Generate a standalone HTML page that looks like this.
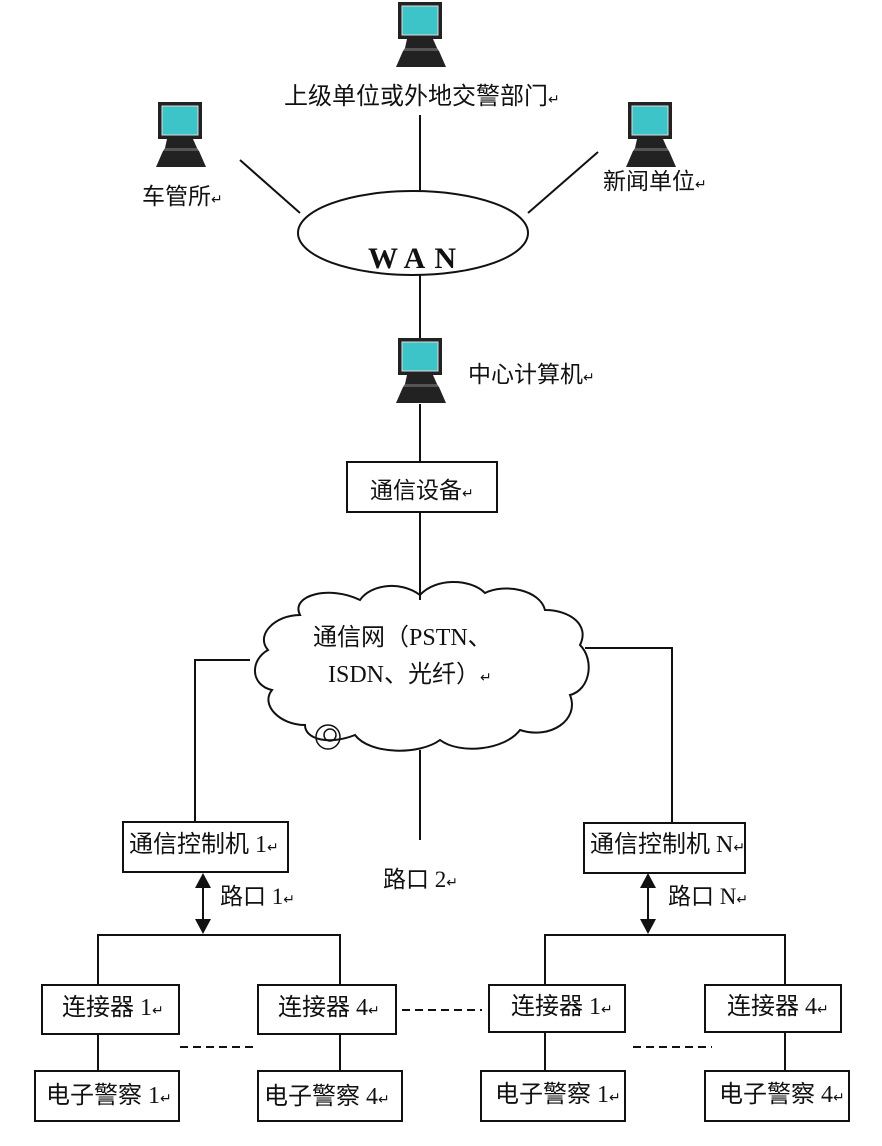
<!DOCTYPE html>
<html><head><meta charset="utf-8"><style>
html,body{margin:0;padding:0;background:#fff;}
svg{display:block}
text{font-family:"Liberation Serif","Noto Sans CJK SC",serif;fill:#111}
.c{font-family:"Noto Sans CJK SC","Liberation Sans",sans-serif}
.r{font-size:14px}
</style></head><body>
<svg width="882" height="1146" viewBox="0 0 882 1146" xmlns="http://www.w3.org/2000/svg">
<defs>
<g id="pc">
<rect x="3" y="0" width="44" height="37" fill="#222"/>
<rect x="7" y="4" width="36" height="29" fill="#3cc4c8" stroke="#ddd" stroke-width="1"/>
<path d="M12 37 L38 37 L42 46 L10 46 Z" fill="#222"/>
<path d="M8 49 L44 49 L51 65 L1 65 Z" fill="#222"/>
<path d="M10 46 L42 46 L44 49 L8 49 Z" fill="#555"/>
</g>
</defs>
<g stroke="#111" stroke-width="2" fill="none">
<line x1="420" y1="115" x2="420" y2="192"/>
<line x1="240" y1="160" x2="300" y2="213"/>
<line x1="598" y1="152" x2="528" y2="213"/>
<ellipse cx="413" cy="233" rx="115" ry="42"/>
<line x1="420" y1="275" x2="420" y2="338"/>
<line x1="420" y1="404" x2="420" y2="462"/>
<rect x="347" y="462" width="150" height="50"/>
<line x1="420" y1="512" x2="420" y2="600"/>
<path d="M300 615 C290 595 330 585 360 600 C370 585 400 580 420 595 C435 578 470 578 485 593 C505 583 540 590 545 610 C570 610 590 625 580 645 C595 660 590 690 570 695 C580 720 550 740 520 730 C505 750 460 755 440 740 C420 755 370 755 355 735 C330 745 305 740 305 725 C280 725 260 705 272 690 C250 685 250 660 268 650 C255 635 275 615 300 615 Z" stroke-width="2"/>
<circle cx="328" cy="737" r="12" stroke-width="1.5"/>
<circle cx="330" cy="735" r="6" stroke-width="1.5"/>
<polyline points="250,660 195,660 195,822"/>
<polyline points="585,648 672,648 672,822"/>
<line x1="420" y1="750" x2="420" y2="840"/>
<rect x="123" y="822" width="165" height="50"/>
<rect x="584" y="823" width="161" height="50"/>
<line x1="203" y1="885" x2="203" y2="922"/>
<line x1="648" y1="885" x2="648" y2="922"/>
<polyline points="98,985 98,935 340,935 340,985"/>
<polyline points="545,985 545,935 785,935 785,985"/>
<rect x="42" y="985" width="137" height="49"/>
<rect x="258" y="985" width="138" height="49"/>
<rect x="489" y="985" width="136" height="47"/>
<rect x="705" y="985" width="136" height="47"/>
<line x1="98" y1="1034" x2="98" y2="1071"/>
<line x1="340" y1="1034" x2="340" y2="1071"/>
<line x1="545" y1="1032" x2="545" y2="1071"/>
<line x1="785" y1="1032" x2="785" y2="1071"/>
<rect x="35" y="1071" width="144" height="50"/>
<rect x="258" y="1071" width="144" height="50"/>
<rect x="481" y="1071" width="144" height="50"/>
<rect x="705" y="1071" width="144" height="50"/>
<g stroke-dasharray="8,5">
<line x1="180" y1="1047" x2="258" y2="1047"/>
<line x1="402" y1="1010" x2="482" y2="1010"/>
<line x1="633" y1="1047" x2="712" y2="1047"/>
</g>
</g>
<g fill="#111">
<path d="M203 873 L195 888 L211 888 Z"/><path d="M203 934 L195 919 L211 919 Z"/>
<path d="M648 873 L640 888 L656 888 Z"/><path d="M648 934 L640 919 L656 919 Z"/>
</g>
<use href="#pc" x="395" y="2"/>
<use href="#pc" x="155" y="102"/>
<use href="#pc" x="625" y="102"/>
<use href="#pc" x="395" y="338"/>
<text class="c" x="284" y="104" font-size="24">上级单位或外地交警部门<tspan class="r">↵</tspan></text>
<text class="c" x="142" y="204" font-size="23">车管所<tspan class="r">↵</tspan></text>
<text class="c" x="603" y="189" font-size="23">新闻单位<tspan class="r">↵</tspan></text>
<text x="368" y="268" font-size="30" font-weight="bold" font-family="Liberation Sans,sans-serif" textLength="88">WAN</text>
<text class="c" x="468" y="382" font-size="23">中心计算机<tspan class="r">↵</tspan></text>
<text class="c" x="370" y="498" font-size="23">通信设备<tspan class="r">↵</tspan></text>
<text x="313" y="645" font-size="24">通信网（PSTN、</text>
<text x="328" y="682" font-size="24">ISDN、光纤）<tspan class="r">↵</tspan></text>
<text x="129" y="852" font-size="24">通信控制机 1<tspan class="r">↵</tspan></text>
<text x="590" y="852" font-size="24">通信控制机 N<tspan class="r">↵</tspan></text>
<text x="220" y="904" font-size="23">路口 1<tspan class="r">↵</tspan></text>
<text x="668" y="904" font-size="23">路口 N<tspan class="r">↵</tspan></text>
<text x="383" y="887" font-size="23">路口 2<tspan class="r">↵</tspan></text>
<text x="62" y="1015" font-size="24">连接器 1<tspan class="r">↵</tspan></text>
<text x="278" y="1015" font-size="24">连接器 4<tspan class="r">↵</tspan></text>
<text x="511" y="1014" font-size="24">连接器 1<tspan class="r">↵</tspan></text>
<text x="727" y="1014" font-size="24">连接器 4<tspan class="r">↵</tspan></text>
<text x="46" y="1103" font-size="24">电子警察 1<tspan class="r">↵</tspan></text>
<text x="264" y="1104" font-size="24">电子警察 4<tspan class="r">↵</tspan></text>
<text x="495" y="1102" font-size="24">电子警察 1<tspan class="r">↵</tspan></text>
<text x="719" y="1102" font-size="24">电子警察 4<tspan class="r">↵</tspan></text>
</svg>
</body></html>
